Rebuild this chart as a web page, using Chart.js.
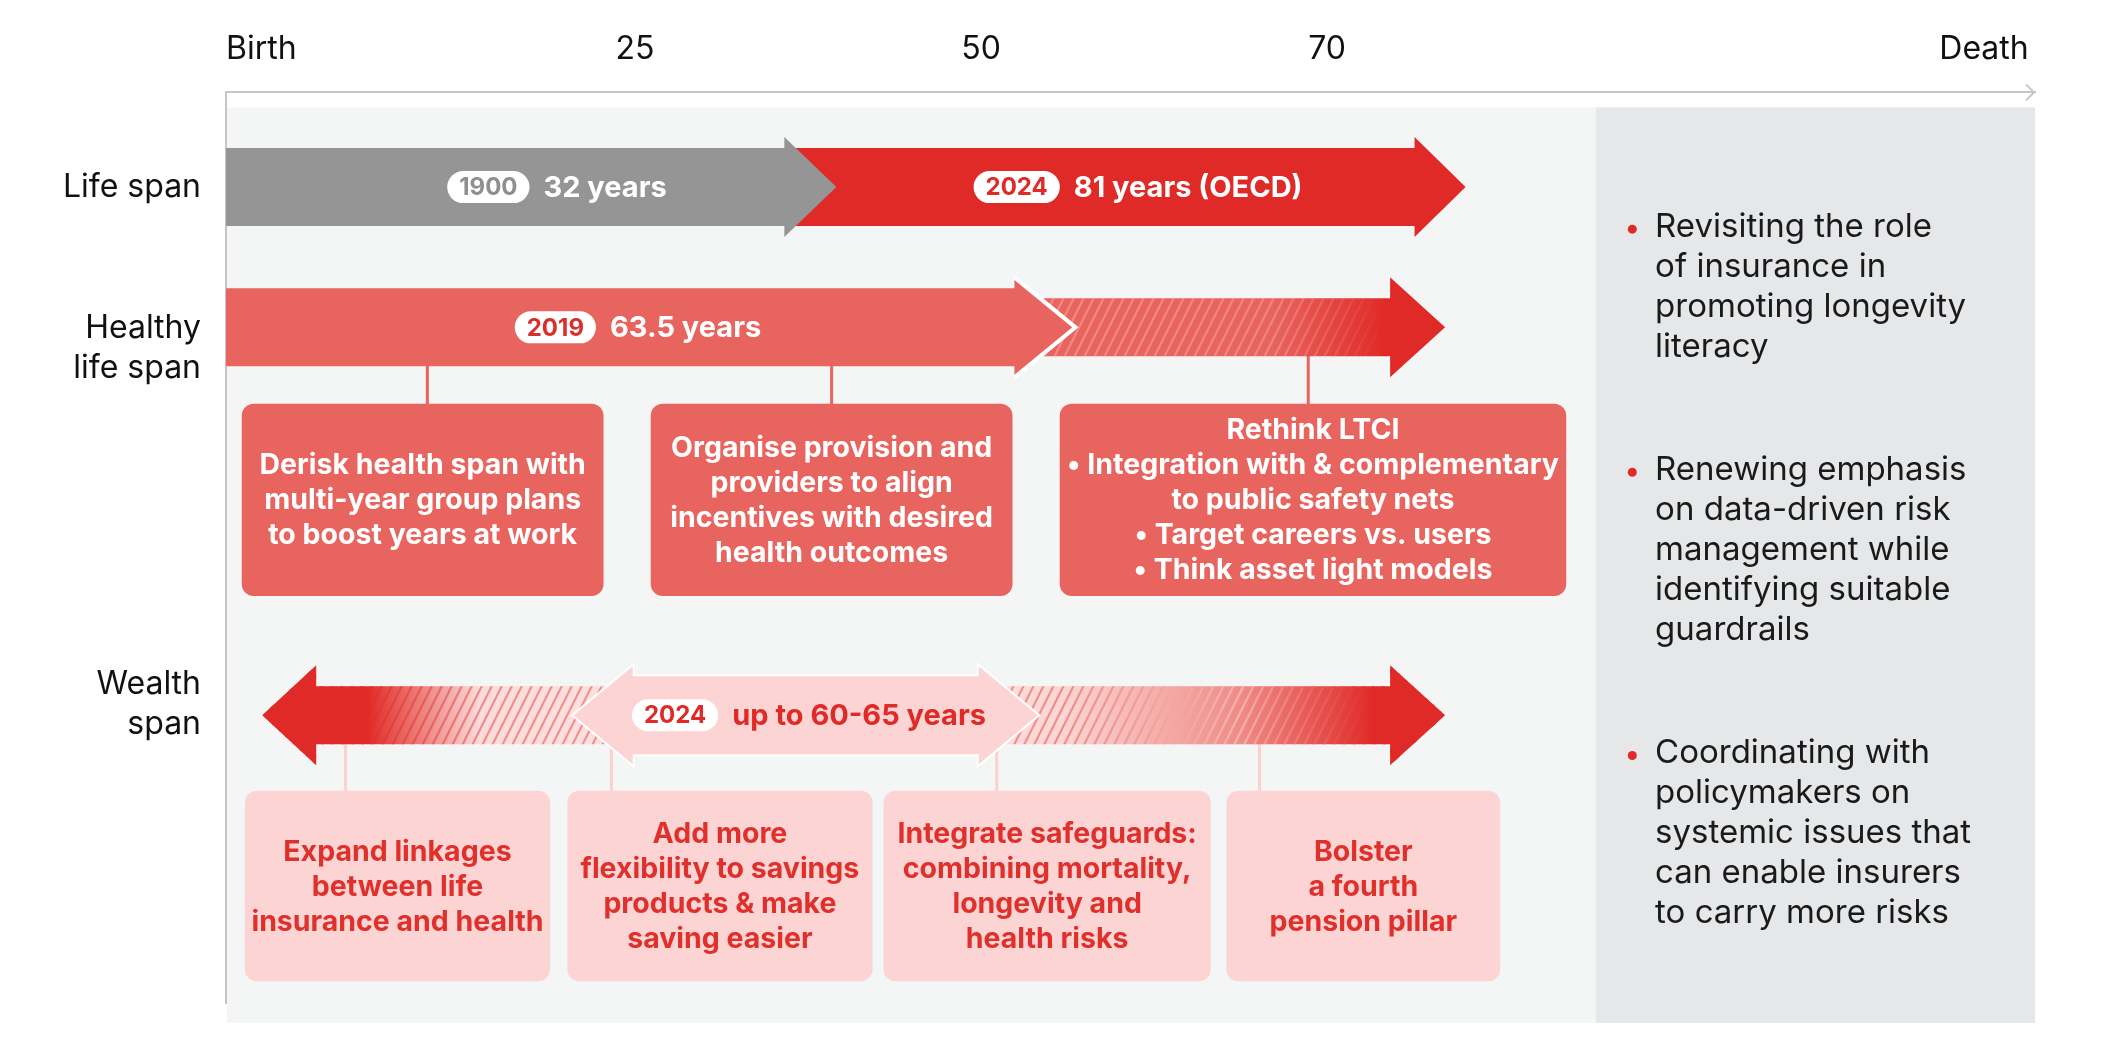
<!DOCTYPE html>
<html>
<head>
<meta charset="utf-8">
<script src="https://cdn.jsdelivr.net/npm/chart.js@4.4.1/dist/chart.umd.min.js"></script>
<style>
  html, body { margin: 0; background: #fff; }
  #wrap { width: 2117px; height: 1056px; }
</style>
</head>
<body>
<div id="wrap"><canvas id="chart"></canvas></div>
<script>
// x axis is a schematic age line
const axisTicks = [0, 26, 48, 70, 114.6];
const axisLabels = ['Birth', '25', '50', '70', 'Death'];

// row labels on the y axis
const rowTicks = [1.04, 2.81, 6.72];
const rowLabels = ['Life span', ['Healthy', 'life span'], ['Wealth', 'span']];

// spans: [start, arrow tip] on the age line
const lifeSpan1900 = [0, 38.8];
const lifeSpan2024 = [35.5, 78.8];
const healthySpan2019 = [0, 54];
const healthySpanAhead = [50.1, 77.5];
const wealthSpanBefore = [2.3, 30];
const wealthSpan2024 = [22.1, 51.6];
const wealthSpanAfter = [45, 77.5];

const spanYears = ['1900', '2024', '2019', '2024'];
const spanTexts = ['32 years', '81 years (OECD)', '63.5 years', 'up to 60-65 years'];

// actions hanging off each span
const healthActionAges = [12.8, 38.5, 68.8];
const healthActions = [
  ['Derisk health span with', 'multi-year group plans', 'to boost years at work'],
  ['Organise provision and', 'providers to align', 'incentives with desired', 'health outcomes'],
  ['Rethink LTCI', '\u2022 Integration with & complementary', 'to public safety nets', '\u2022 Target careers vs. users', '\u2022 Think asset light models']
];
const wealthActionAges = [7.6, 24.5, 49.0, 65.7];
const wealthActions = [
  ['Expand linkages', 'between life', 'insurance and health'],
  ['Add more', 'flexibility to savings', 'products & make', 'saving easier'],
  ['Integrate safeguards:', 'combining mortality,', 'longevity and', 'health risks'],
  ['Bolster', 'a fourth', 'pension pillar']
];

const takeaways = [
  ['Revisiting the role', 'of insurance in', 'promoting longevity', 'literacy'],
  ['Renewing emphasis', 'on data-driven risk', 'management while', 'identifying suitable', 'guardrails'],
  ['Coordinating with', 'policymakers on', 'systemic issues that', 'can enable insurers', 'to carry more risks']
];

// ---- layout (not data) ----
const RED = '#e02a27', SALMON = '#e8645f', PINK = '#fbd4d3', GREY = '#959595';
const FONT = 'Inter, "Noto Sans", sans-serif';
const lane = { life: 1.04, healthy: 2.58, wealth: 6.84 };
const healthBand = [3.42, 5.53], wealthBand = [7.67, 9.76];
const healthBoxX = [[1.0, 24.0], [27.0, 50.0], [53.0, 85.2]];
const wealthBoxX = [[1.2, 20.6], [21.7, 41.1], [41.8, 62.6], [63.6, 81.0]];
const labelAnchor = [21.04, 57.98, 26.19, 37.06];
const sidePanel = [87.1, 115], panelY = [0.165, 10.22];
const takeawayX = 90.85, bulletX = 89.4, takeawayY = [1.48, 4.15, 7.26];

function arrowRight(ctx, x0, x1, yc, bh, hh, hl) {
  ctx.beginPath();
  ctx.moveTo(x0, yc - bh); ctx.lineTo(x1 - hl, yc - bh); ctx.lineTo(x1 - hl, yc - hh);
  ctx.lineTo(x1, yc); ctx.lineTo(x1 - hl, yc + hh); ctx.lineTo(x1 - hl, yc + bh);
  ctx.lineTo(x0, yc + bh); ctx.closePath();
}
function arrowLeft(ctx, x0, x1, yc, bh, hh, hl) {
  // x0 = tip on the left
  ctx.beginPath();
  ctx.moveTo(x1, yc - bh); ctx.lineTo(x0 + hl, yc - bh); ctx.lineTo(x0 + hl, yc - hh);
  ctx.lineTo(x0, yc); ctx.lineTo(x0 + hl, yc + hh); ctx.lineTo(x0 + hl, yc + bh);
  ctx.lineTo(x1, yc + bh); ctx.closePath();
}
function arrowBoth(ctx, x0, x1, yc, bh, hh, hl) {
  ctx.beginPath();
  ctx.moveTo(x0, yc); ctx.lineTo(x0 + hl, yc - hh); ctx.lineTo(x0 + hl, yc - bh);
  ctx.lineTo(x1 - hl, yc - bh); ctx.lineTo(x1 - hl, yc - hh); ctx.lineTo(x1, yc);
  ctx.lineTo(x1 - hl, yc + hh); ctx.lineTo(x1 - hl, yc + bh); ctx.lineTo(x0 + hl, yc + bh);
  ctx.lineTo(x0 + hl, yc + hh); ctx.closePath();
}

// fills the current path with a horizontal gradient plus diagonal stripes
function hatchFill(ctx, x0, x1, y0, y1, baseStops, lineStops) {
  ctx.save();
  ctx.clip();
  const g = ctx.createLinearGradient(x0, 0, x1, 0);
  baseStops.forEach(s => g.addColorStop(s[0], s[1]));
  ctx.fillStyle = g;
  ctx.fillRect(x0, y0, x1 - x0, y1 - y0);
  const lg = ctx.createLinearGradient(x0, 0, x1, 0);
  lineStops.forEach(s => lg.addColorStop(s[0], s[1]));
  ctx.strokeStyle = lg;
  ctx.lineWidth = 2.2;
  const slant = (y1 - y0) * 0.5;
  ctx.beginPath();
  for (let x = x0 - slant; x < x1 + slant; x += 10) {
    ctx.moveTo(x, y1); ctx.lineTo(x + slant, y0);
  }
  ctx.stroke();
  ctx.restore();
}

function drawSpanLabel(ctx, cx, cy, year, text, yearColor, textColor) {
  ctx.save();
  ctx.font = '700 24px ' + FONT;
  const yw = ctx.measureText(year).width;
  const pw = yw + 24, ph = 32, gap = 14;
  ctx.font = '700 29px ' + FONT;
  const tw = ctx.measureText(text).width;
  const left = cx - (pw + gap + tw) / 2;
  ctx.fillStyle = '#fff';
  ctx.beginPath();
  ctx.roundRect(left, cy - ph / 2, pw, ph, ph / 2);
  ctx.fill();
  ctx.textBaseline = 'middle';
  ctx.textAlign = 'center';
  ctx.font = '700 24px ' + FONT;
  ctx.fillStyle = yearColor;
  ctx.fillText(year, left + pw / 2, cy + 1);
  ctx.textAlign = 'left';
  ctx.font = '700 29px ' + FONT;
  ctx.fillStyle = textColor;
  ctx.fillText(text, left + pw + gap, cy + 1);
  ctx.restore();
}

function drawBox(ctx, x0, x1, y0, y1, fill, lines, color) {
  ctx.save();
  ctx.fillStyle = fill;
  ctx.beginPath();
  ctx.roundRect(x0, y0, x1 - x0, y1 - y0, 12);
  ctx.fill();
  ctx.fillStyle = color;
  ctx.font = '700 28.5px ' + FONT;
  ctx.textAlign = 'center';
  ctx.textBaseline = 'middle';
  const cx = (x0 + x1) / 2, cy = (y0 + y1) / 2, lh = 35;
  lines.forEach((l, i) => ctx.fillText(l, cx, cy + 1 + (i - (lines.length - 1) / 2) * lh));
  ctx.restore();
}

const infographic = {
  id: 'infographic',
  beforeDraw(chart) {
    const { ctx, scales: { x, y } } = chart;
    const top = y.getPixelForValue(panelY[0]), bottom = y.getPixelForValue(panelY[1]);
    const left = x.getPixelForValue(0) + 1, split = x.getPixelForValue(sidePanel[0]);
    ctx.save();
    ctx.fillStyle = '#f4f5f5';
    ctx.fillRect(left, top, split - left, bottom - top);
    ctx.fillStyle = '#e6e7e9';
    ctx.fillRect(split, top, x.getPixelForValue(sidePanel[1]) - split, bottom - top);
    ctx.restore();
  },
  afterDatasetsDraw(chart) {
    const { ctx, scales: { x, y } } = chart;
    const px = v => x.getPixelForValue(v), py = v => y.getPixelForValue(v);
    const lifeY = py(lane.life), healthyY = py(lane.healthy), wealthY = py(lane.wealth);

    // connectors
    ctx.save();
    ctx.lineWidth = 3;
    ctx.strokeStyle = SALMON;
    healthActionAges.forEach(a => {
      ctx.beginPath(); ctx.moveTo(px(a), healthyY); ctx.lineTo(px(a), py(healthBand[0]) + 2); ctx.stroke();
    });
    ctx.strokeStyle = '#fbd0cf';
    wealthActionAges.forEach(a => {
      ctx.beginPath(); ctx.moveTo(px(a), wealthY); ctx.lineTo(px(a), py(wealthBand[0]) + 2); ctx.stroke();
    });
    ctx.restore();

    // life span
    ctx.save();
    arrowRight(ctx, px(lifeSpan2024[0]), px(lifeSpan2024[1]), lifeY, 39, 50, 51);
    ctx.fillStyle = RED; ctx.fill();
    arrowRight(ctx, px(lifeSpan1900[0]), px(lifeSpan1900[1]), lifeY, 39, 50, 52);
    ctx.fillStyle = GREY; ctx.fill();

    // healthy life span: projected part first, then the 2019 span over it
    const ha0 = px(healthySpanAhead[0]), ha1 = px(healthySpanAhead[1]);
    arrowRight(ctx, ha0, ha1, healthyY, 29, 50, 55);
    hatchFill(ctx, ha0, ha1, healthyY - 50, healthyY + 50,
      [[0, SALMON], [0.6, SALMON], [0.86, RED], [1, RED]],
      [[0, 'rgba(255,170,165,0.55)'], [0.6, 'rgba(255,170,165,0.45)'], [0.86, 'rgba(255,170,165,0)'], [1, 'rgba(255,170,165,0)']]);
    arrowRight(ctx, px(healthySpan2019[0]), px(healthySpan2019[1]), healthyY, 39, 50, 61);
    ctx.fillStyle = SALMON; ctx.fill();
    ctx.lineWidth = 4; ctx.strokeStyle = '#fff';
    const ht = px(healthySpan2019[1]);
    ctx.beginPath();
    ctx.moveTo(ht - 61, healthyY - 50); ctx.lineTo(ht, healthyY); ctx.lineTo(ht - 61, healthyY + 50);
    ctx.stroke();

    // wealth span
    const wb0 = px(wealthSpanBefore[0]), wb1 = px(wealthSpanBefore[1]);
    arrowLeft(ctx, wb0, wb1, wealthY, 29, 50, 54);
    hatchFill(ctx, wb0, wb1, wealthY - 50, wealthY + 50,
      [[0, RED], [0.24, RED], [0.5, '#fbdcdb'], [1, '#fde3e2']],
      [[0, RED], [0.24, RED], [0.5, '#ee8e8a'], [1, '#ef9a96']]);
    const wa0 = px(wealthSpanAfter[0]), wa1 = px(wealthSpanAfter[1]);
    arrowRight(ctx, wa0, wa1, wealthY, 29, 50, 55);
    hatchFill(ctx, wa0, wa1, wealthY - 50, wealthY + 50,
      [[0, '#fde3e2'], [0.25, '#fbd6d4'], [0.6, '#ef8b86'], [0.86, RED], [1, RED]],
      [[0, '#ef9a96'], [0.25, '#ee8e8a'], [0.6, '#f6b3b0'], [0.86, RED], [1, RED]]);
    arrowBoth(ctx, px(wealthSpan2024[0]), px(wealthSpan2024[1]), wealthY, 39, 49, 59);
    ctx.fillStyle = PINK; ctx.fill();
    ctx.lineWidth = 4; ctx.strokeStyle = '#fff'; ctx.stroke();
    arrowBoth(ctx, px(wealthSpan2024[0]), px(wealthSpan2024[1]), wealthY, 39, 49, 59);
    ctx.fillStyle = PINK; ctx.fill();
    ctx.restore();

    // span labels
    drawSpanLabel(ctx, px(labelAnchor[0]), lifeY, spanYears[0], spanTexts[0], '#8f8f8f', '#fff');
    drawSpanLabel(ctx, px(labelAnchor[1]), lifeY, spanYears[1], spanTexts[1], RED, '#fff');
    drawSpanLabel(ctx, px(labelAnchor[2]), healthyY, spanYears[2], spanTexts[2], '#d9302c', '#fff');
    drawSpanLabel(ctx, px(labelAnchor[3]), wealthY, spanYears[3], spanTexts[3], RED, RED);

    // action boxes
    healthActions.forEach((lines, i) => drawBox(ctx, px(healthBoxX[i][0]), px(healthBoxX[i][1]),
      py(healthBand[0]), py(healthBand[1]), SALMON, lines, '#fff'));
    wealthActions.forEach((lines, i) => drawBox(ctx, px(wealthBoxX[i][0]), px(wealthBoxX[i][1]),
      py(wealthBand[0]), py(wealthBand[1]), PINK, lines, '#e0302c'));

    // takeaways in the side panel
    ctx.save();
    ctx.font = '400 33px ' + FONT;
    ctx.textBaseline = 'middle';
    ctx.textAlign = 'left';
    takeaways.forEach((lines, i) => {
      const y0 = py(takeawayY[i]);
      ctx.fillStyle = RED;
      ctx.beginPath(); ctx.arc(px(bulletX), y0 + 2, 4.5, 0, Math.PI * 2); ctx.fill();
      ctx.fillStyle = '#1a1a1a';
      lines.forEach((l, j) => ctx.fillText(l, px(takeawayX), y0 + j * 40));
    });
    ctx.restore();
  },
  afterDraw(chart) {
    // chevron at the end of the age line
    const { ctx, chartArea } = chart;
    ctx.save();
    ctx.strokeStyle = '#c6c6c6';
    ctx.lineWidth = 2;
    ctx.beginPath();
    ctx.moveTo(chartArea.right - 9, chartArea.top - 8);
    ctx.lineTo(chartArea.right - 1, chartArea.top);
    ctx.lineTo(chartArea.right - 9, chartArea.top + 8);
    ctx.stroke();
    ctx.restore();
  }
};

new Chart(document.getElementById('chart'), {
  type: 'scatter',
  data: { datasets: [] },
  options: {
    responsive: true,
    maintainAspectRatio: false,
    animation: false,
    layout: { padding: { top: 6, right: 82, bottom: 53, left: 0 } },
    plugins: { legend: { display: false }, tooltip: { enabled: false } },
    scales: {
      x: {
        type: 'linear',
        position: 'top',
        min: 0,
        max: 115,
        afterBuildTicks: scale => { scale.ticks = axisTicks.map(v => ({ value: v })); },
        ticks: {
          callback: (v, i) => axisLabels[i],
          align: 'inner',
          autoSkip: false,
          maxRotation: 0,
          padding: 24,
          color: '#111',
          font: { family: FONT, size: 32 }
        },
        grid: { color: 'transparent', drawTicks: false },
        border: { color: '#c6c6c6', width: 2 }
      },
      y: {
        type: 'linear',
        reverse: true,
        min: 0,
        max: 10,
        afterBuildTicks: scale => { scale.ticks = rowTicks.map(v => ({ value: v })); },
        afterFit: scale => { scale.width = 226; },
        ticks: {
          callback: (v, i) => rowLabels[i],
          autoSkip: false,
          padding: 25,
          color: '#111',
          font: { family: FONT, size: 32, lineHeight: 1.25 }
        },
        grid: { color: 'transparent', drawTicks: false },
        border: { color: '#c6c6c6', width: 2 }
      }
    }
  },
  plugins: [infographic]
});
</script>
</body>
</html>
